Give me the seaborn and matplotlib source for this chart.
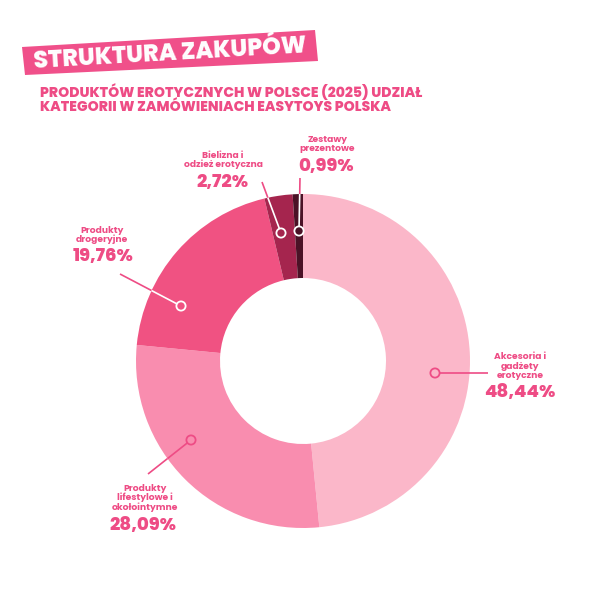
import numpy as np
import matplotlib
matplotlib.use("Agg")
import matplotlib.pyplot as plt
from matplotlib.patches import Polygon, Circle
import seaborn as sns

# ---- data ----
categories = ["Akcesoria i\ngadżety\nerotyczne",
              "Produkty\nlifestylowe i\nokołointymne",
              "Produkty\ndrogeryjne",
              "Bielizna i\nodzież erotyczna",
              "Zestawy\nprezentowe"]
values = [48.44, 28.09, 19.76, 2.72, 0.99]
value_labels = ["48,44%", "28,09%", "19,76%", "2,72%", "0,99%"]
colors = ["#FBB7C9", "#F98DAF", "#F05282", "#A5254E", "#4B1226"]

title = "STRUKTURA ZAKUPÓW"
subtitle = "PRODUKTÓW EROTYCZNYCH W POLSCE (2025) UDZIAŁ\nKATEGORII W ZAMÓWIENIACH EASYTOYS POLSKA"

sns.set_theme(style="white")
FONTS = ['Poppins', 'Lato', 'DejaVu Sans']
plt.rcParams['font.family'] = FONTS

PINK = "#EE4C85"
W = H = 592
fig = plt.figure(figsize=(5.92, 5.92), dpi=100)
ax = fig.add_axes([0, 0, 1, 1])

def Y(y):
    return H - y

cx, cy, R, RIN = 303, 361, 167, 83
palette = sns.color_palette(colors)
ax.pie(values, colors=palette, startangle=90, counterclock=False,
       center=(cx, Y(cy)), radius=R, frame=True,
       wedgeprops=dict(width=R - RIN, linewidth=0, antialiased=True))

# ---- banner ----
banner = Polygon([(22, Y(47)), (315, Y(30)), (318, Y(61)), (25, Y(75))],
                 closed=True, facecolor="#F0508A", edgecolor="none", zorder=5)
ax.add_patch(banner)
ax.text(170, Y(55), title, rotation=3.3, ha="center", va="center",
        color="white", fontsize=17, fontweight=800, zorder=6,
        rotation_mode="anchor")
ax.text(40, Y(99.5), subtitle, ha="left", va="center", color=PINK,
        fontsize=10.1, fontweight=800, linespacing=1.0)

# ---- annotations ----
ann = [
    ((488, 373), (435, 373), PINK, PINK),
    ((148, 474), (191, 440), PINK, PINK),
    ((120, 274), (181, 306), "white", "white"),
    ((262, 182), (281, 233), "white", "white"),
    ((300, 178), (299, 231), "white", "white"),
]
text_pos = [
    ((520, 366), (520, 393)),
    ((145, 498), (143, 526)),
    ((102, 235), (103, 257)),
    ((223, 160), (222, 183)),
    ((327, 144), (326, 167)),
]

def split_point(p0, p1):
    p0 = np.array(p0, float); p1 = np.array(p1, float)
    c = np.array([cx, cy], float)
    d = p1 - p0; f = p0 - c
    a = d @ d; b = 2 * f @ d; cc = f @ f - R * R
    disc = b * b - 4 * a * cc
    if disc < 0:
        return p1
    for t in sorted([(-b - np.sqrt(disc)) / (2 * a), (-b + np.sqrt(disc)) / (2 * a)]):
        if 0 <= t <= 1:
            return p0 + t * d
    return p1

for i, ((p0, p1, inc, mec), (tp, vp)) in enumerate(zip(ann, text_pos)):
    sp = split_point(p0, p1)
    ax.plot([p0[0], sp[0]], [Y(p0[1]), Y(sp[1])], color=PINK, lw=1.2,
            solid_capstyle="butt", zorder=3)
    ax.plot([sp[0], p1[0]], [Y(sp[1]), Y(p1[1])], color=inc, lw=1.2,
            solid_capstyle="butt", zorder=3)
    ax.add_patch(Circle((p1[0], Y(p1[1])), 4.6, facecolor=colors[i],
                        edgecolor=mec, lw=1.3, zorder=4))
    ax.text(tp[0], Y(tp[1]), categories[i], ha="center", va="center",
            color=PINK, fontsize=6.6, fontweight=700, linespacing=1.05)
    ax.text(vp[0], Y(vp[1]), value_labels[i], ha="center", va="center",
            color=PINK, fontsize=13, fontweight=800)

ax.set_xlim(0, W)
ax.set_ylim(0, H)
ax.set_aspect("equal")
ax.axis("off")
fig.savefig("out.png", dpi=100, facecolor="white")
